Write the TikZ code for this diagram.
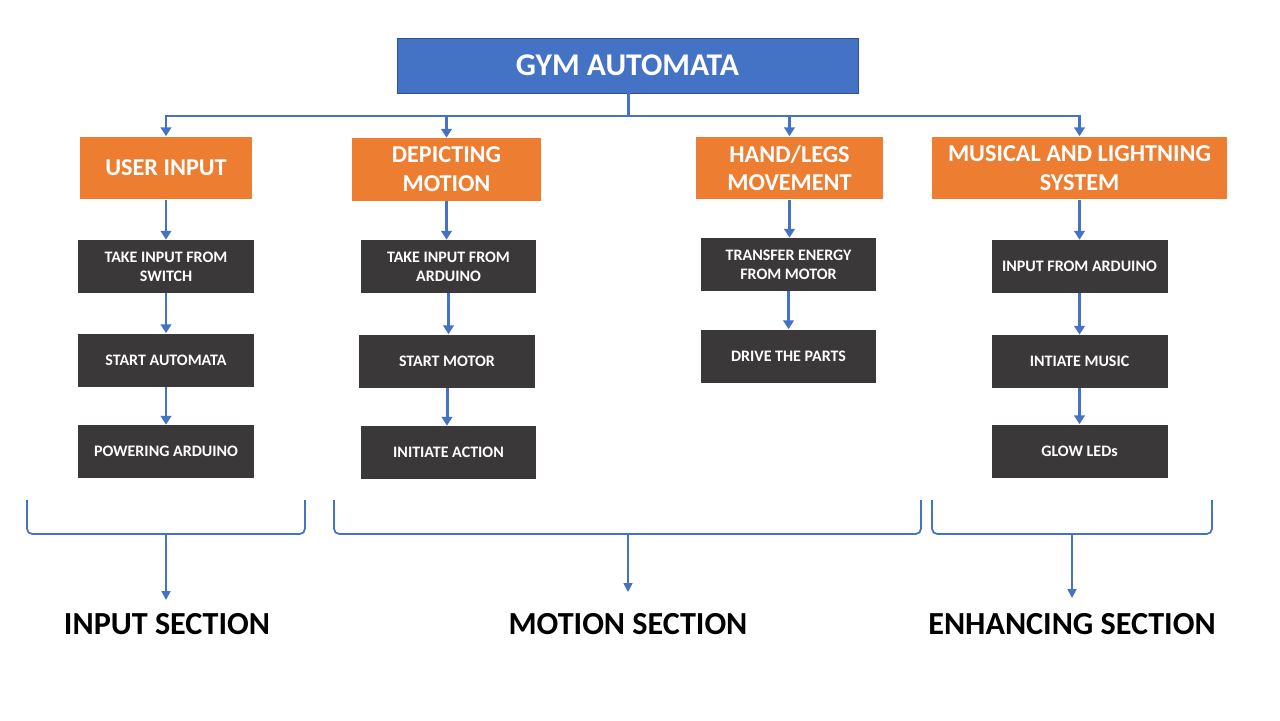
\documentclass[tikz,border=0pt]{standalone}
\usepackage{fontspec}
\setmainfont{Carlito}
\usepackage{tikz}
\usetikzlibrary{arrows.meta}

\definecolor{tblue}{HTML}{4472C4}
\definecolor{tborder}{HTML}{2F528F}
\definecolor{torange}{HTML}{ED7D31}
\definecolor{tdark}{HTML}{3A3838}

\begin{document}
\begin{tikzpicture}[x=0.02cm,y=-0.02cm,
		arr/.style={draw=tblue,line width=1.7pt,-{Triangle[width=6pt,length=5pt]}},
		bracket/.style={draw=tblue,line width=1pt,rounded corners=3pt},
		thinarr/.style={draw=tblue,line width=1pt,-{Triangle[width=5pt,length=5pt]}}]
			\useasboundingbox (0,0) rectangle (1280,720);
			
			\node [fill=tblue,draw=tborder,thin,minimum width=9.22cm,minimum height=1.1cm,
				text=white,font=\bfseries\fontsize{18}{21}\selectfont] (G) at (627.5,65.5) {GYM AUTOMATA};
			
			\begin{scope}[every node/.style={fill=torange,text=white,inner sep=0pt,align=center,
					minimum height=1.26cm,font=\bfseries\fontsize{13.8}{16.4}\selectfont}]
				\node [minimum width=3.44cm] (U) at (166,168) {USER INPUT};
				\node [minimum width=3.78cm] (D) at (446.5,169.5) {DEPICTING\\MOTION};
				\node [minimum width=3.74cm] (H) at (789.5,168) {HAND/LEGS\\MOVEMENT};
				\node [minimum width=5.9cm] (M) at (1079.5,168) {MUSICAL AND LIGHTNING\\SYSTEM};
			\end{scope}
			
			\begin{scope}[every node/.style={fill=tdark,text=white,inner sep=0pt,align=center,
					minimum width=3.52cm,minimum height=1.06cm,font=\bfseries\fontsize{9.1}{10.8}\selectfont}]
				\node (U1) at (166,266.5) {TAKE INPUT FROM\\SWITCH};
				\node (U2) at (166,360) {START AUTOMATA};
				\node (U3) at (166,451.5) {POWERING ARDUINO};
				\node (D1) at (448.5,266.5) {TAKE INPUT FROM\\ARDUINO};
				\node (D2) at (447,361) {START MOTOR};
				\node (D3) at (448.5,452.5) {INITIATE ACTION};
				\node (H1) at (788.5,264.5) {TRANSFER ENERGY\\FROM MOTOR};
				\node (H2) at (788.5,356) {DRIVE THE PARTS};
				\node (M1) at (1079.5,266.5) {INPUT FROM ARDUINO};
				\node (M2) at (1079.5,361.5) {INTIATE MUSIC};
				\node (M3) at (1079.5,451) {GLOW LEDs};
			\end{scope}
			
			% tree from the title
			\coordinate (bus) at (628,116);
			\draw [draw=tblue,line width=1.7pt] (G.south -| bus) -- (bus);
			\foreach \n in {U,D,H,M}
				\draw [arr] (bus) -| (\n.north);
			
			% columns
			\foreach \a/\b in {U/U1,U1/U2,U2/U3,D/D1,D1/D2,D2/D3,H/H1,H1/H2,M/M1,M1/M2,M2/M3}
				\draw [arr] (\a.south) -- (\a.south |- \b.north);
			
			% sections
			\begin{scope}[every node/.style={font=\bfseries\fontsize{18.3}{21}\selectfont}]
				\node (IS) at (167,624) {INPUT SECTION};
				\node (MS) at (628,624) {MOTION SECTION};
				\node (ES) at (1072,624) {ENHANCING SECTION};
			\end{scope}
			
			\draw [bracket] (27,500) -- (27,534) -- (305,534) -- (305,500);
			\draw [bracket] (334,500) -- (334,534) -- (921,534) -- (921,500);
			\draw [bracket] (932,500) -- (932,534) -- (1212,534) -- (1212,500);
			\coordinate (ib) at (166,534);
			\coordinate (mb) at (628,534);
			\coordinate (eb) at (1072,534);
			\draw [thinarr] (ib) -- (ib |- 0,600);
			\draw [thinarr] (mb) -- (mb |- 0,592);
			\draw [thinarr] (eb) -- (eb |- 0,598);
		\end{tikzpicture}
\end{document}
